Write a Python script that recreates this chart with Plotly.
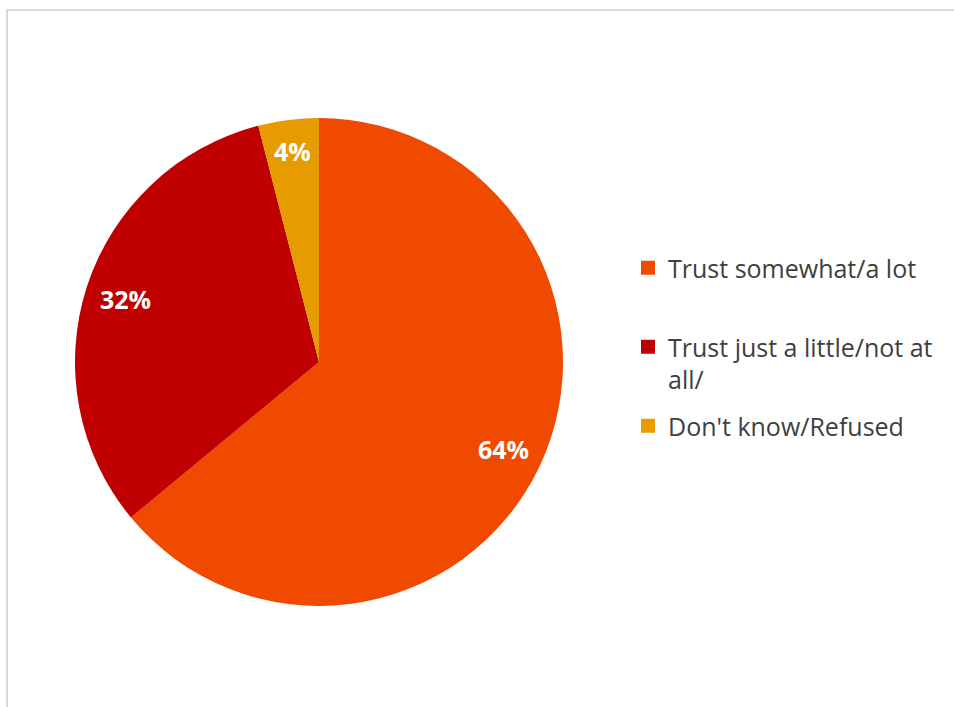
import math
import plotly.graph_objects as go

# Survey responses on trust
labels = ["Trust somewhat/a lot", "Trust just a little/not at all/", "Don't know/Refused"]
legend_text = ["Trust somewhat/a lot<br> ", "Trust just a little/not at<br>all/", "Don't know/Refused<br> "]
values = [64, 32, 4]
colors = ["#F04A00", "#C00000", "#E69B00"]

W, H = 954, 707
FONT = "Open Sans"

# Pie geometry in pixels
CX, CY, R = 319, 362, 244

fig = go.Figure()
fig.add_trace(
    go.Pie(
        labels=labels,
        values=values,
        sort=False,
        direction="clockwise",
        rotation=0,
        marker=dict(colors=colors, line=dict(color="white", width=0)),
        textinfo="none",
        hoverinfo="label+percent",
        showlegend=False,
        domain=dict(x=[(CX - R) / W, (CX + R) / W], y=[(H - CY - R) / H, (H - CY + R) / H]),
    )
)

# Legend entries
for name, col in zip(legend_text, colors):
    fig.add_trace(
        go.Scatter(
            x=[None], y=[None], mode="markers", name=name, legendgroup=name,
            marker=dict(symbol="square", size=14, color=col),
            hoverinfo="skip",
        )
    )

# Percentage labels at the middle angle of each slice
total = sum(values)
cum = 0
for v in values:
    mid = (cum + v / 2) / total * 2 * math.pi
    cum += v
    rf = 0.835 if v / total > 0.1 else 0.87
    px = CX + rf * R * math.sin(mid)
    py = CY - rf * R * math.cos(mid)
    fig.add_annotation(
        x=px / W, y=1 - py / H, xref="paper", yref="paper",
        xanchor="center", yanchor="middle",
        text=f"{v}%", showarrow=False,
        font=dict(family=FONT, size=25, color="white", weight="bold"),
    )

# Chart-area frame (left and top edges visible)
fig.add_shape(
    type="rect", xref="paper", yref="paper",
    x0=7 / W, x1=1.2, y0=-0.2, y1=(H - 10) / H,
    line=dict(color="#D9D9D9", width=2),
)

fig.update_layout(
    width=W, height=H,
    margin=dict(l=0, r=0, t=0, b=0),
    paper_bgcolor="white",
    plot_bgcolor="white",
    xaxis=dict(visible=False),
    yaxis=dict(visible=False),
    showlegend=True,
    legend=dict(
        x=628 / W, xanchor="left",
        y=1 - 245 / H, yanchor="top",
        valign="top",
        tracegroupgap=11,
        font=dict(family=FONT, size=25, color="#404040"),
        bgcolor="rgba(0,0,0,0)",
    ),
)

fig.write_html("out.html")
